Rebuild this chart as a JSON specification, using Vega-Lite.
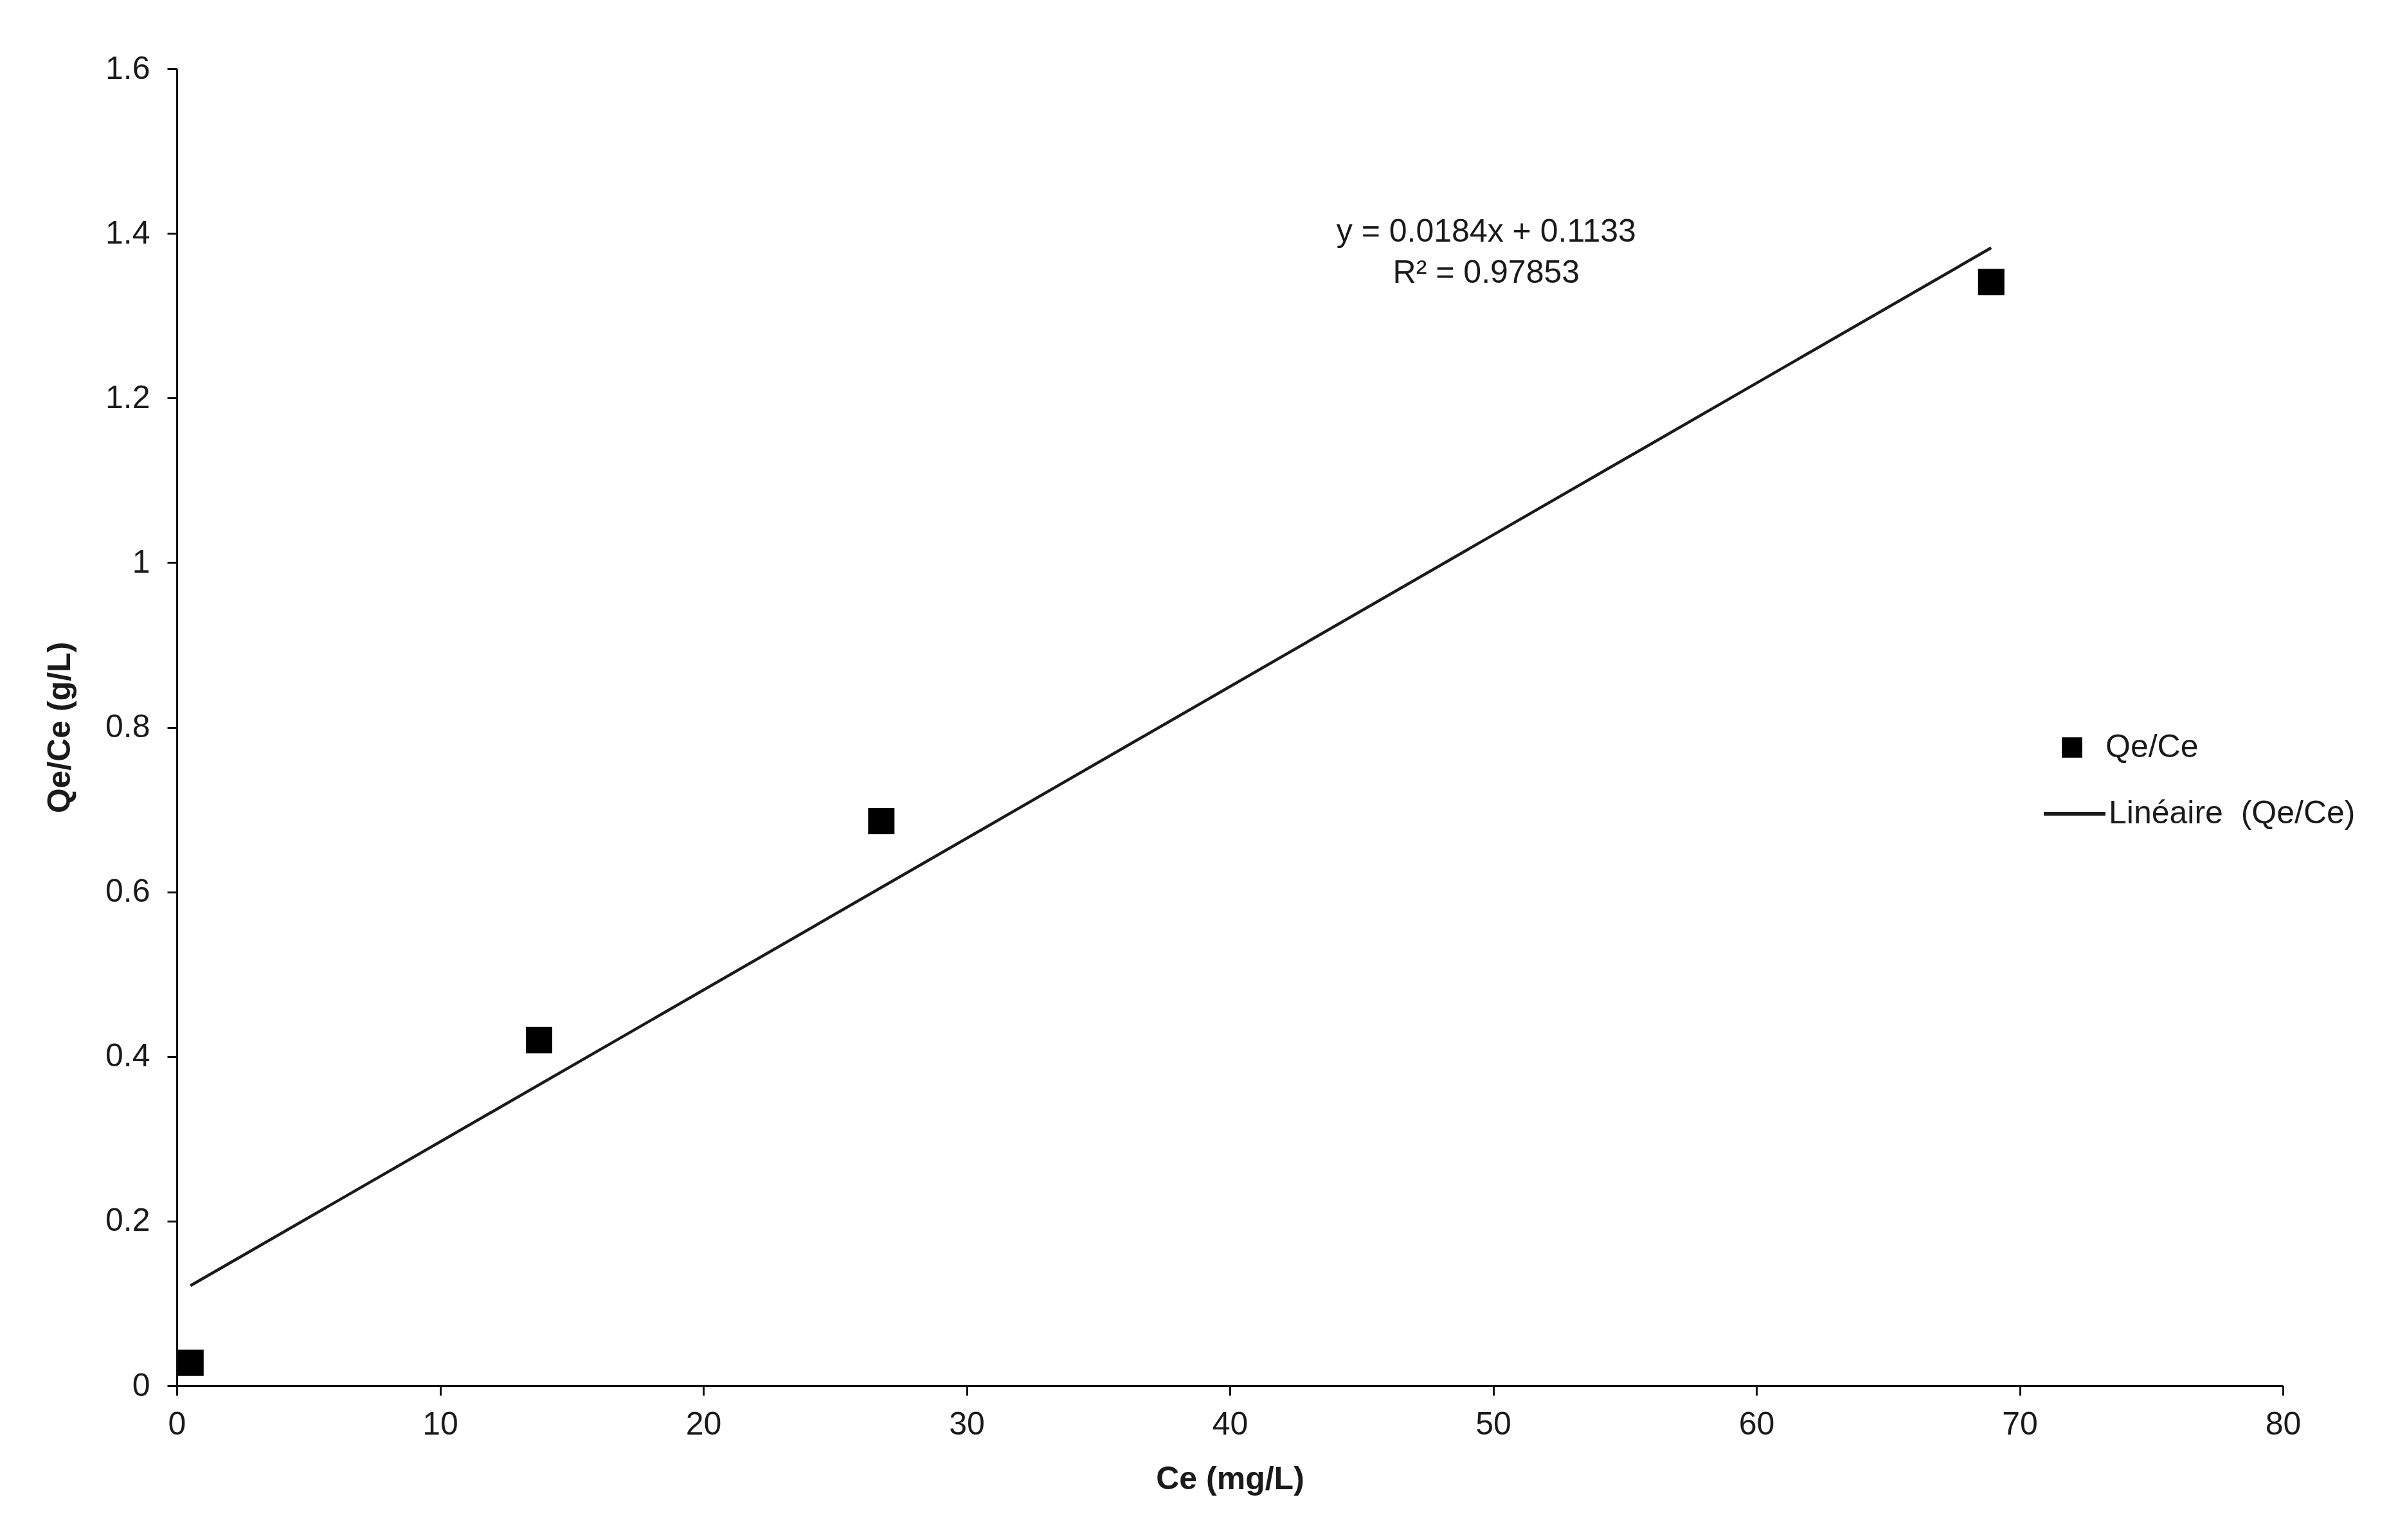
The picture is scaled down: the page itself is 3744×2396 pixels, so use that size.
{
  "$schema": "https://vega.github.io/schema/vega-lite/v6.json",
  "width": 3276,
  "height": 2049,
  "autosize": "none",
  "padding": {"left": 275, "top": 107, "right": 193, "bottom": 240},
  "background": "white",
  "config": {
    "font": "Liberation Sans",
    "view": {"stroke": null},
    "axis": {
      "grid": false,
      "domainColor": "#111111",
      "domainWidth": 3,
      "tickColor": "#111111",
      "tickWidth": 3,
      "tickSize": 15,
      "labelFlush": false,
      "labelFont": "Liberation Sans",
      "labelFontSize": 50,
      "labelColor": "#1a1a1a",
      "titleFont": "Liberation Sans",
      "titleFontSize": 50,
      "titleFontWeight": "bold",
      "titleColor": "#1a1a1a"
    },
    "legend": {
      "labelFont": "Liberation Sans",
      "labelFontSize": 50,
      "labelColor": "#1a1a1a",
      "labelLimit": 800
    }
  },
  "datasets": {
    "pts": [
      {"Ce": 0.52, "QeCe": 0.028, "series": "Qe/Ce"},
      {"Ce": 13.76, "QeCe": 0.42, "series": "Qe/Ce"},
      {"Ce": 26.76, "QeCe": 0.686, "series": "Qe/Ce"},
      {"Ce": 68.92, "QeCe": 1.341, "series": "Qe/Ce"}
    ],
    "notes": [
      {"Ce": 49.74, "QeCe": 1.4017, "label": "y = 0.0184x + 0.1133"},
      {"Ce": 49.74, "QeCe": 1.3517, "label": "R² = 0.97853"}
    ]
  },
  "layer": [
    {
      "data": {"name": "pts"},
      "transform": [{"regression": "QeCe", "on": "Ce"}],
      "mark": {"type": "line", "strokeWidth": 4.5},
      "encoding": {
        "x": {"field": "Ce", "type": "quantitative"},
        "y": {"field": "QeCe", "type": "quantitative"},
        "stroke": {
          "datum": "Linéaire\u00a0 (Qe/Ce)",
          "scale": {"range": ["#1a1a1a"]},
          "legend": {
            "title": null,
            "orient": "none",
            "legendX": 2901,
            "legendY": 1108,
            "symbolType": "stroke",
            "symbolSize": 9216,
            "symbolStrokeWidth": 6,
            "labelOffset": 2
          }
        }
      }
    },
    {
      "data": {"name": "pts"},
      "mark": {"type": "point", "filled": true, "color": "black", "opacity": 1, "size": 1681, "shape": "square"},
      "encoding": {
        "x": {
          "field": "Ce", "type": "quantitative",
          "scale": {"domain": [0, 80], "nice": false, "zero": true},
          "axis": {"values": [0, 10, 20, 30, 40, 50, 60, 70, 80], "title": "Ce (mg/L)", "labelPadding": 20, "titlePadding": 35, "format": "~g"}
        },
        "y": {
          "field": "QeCe", "type": "quantitative",
          "scale": {"domain": [0, 1.6], "nice": false},
          "axis": {"values": [0, 0.2, 0.4, 0.6, 0.8, 1, 1.2, 1.4, 1.6], "title": "Qe/Ce (g/L)", "labelPadding": 27, "titlePadding": 45, "format": "~g"}
        },
        "shape": {
          "field": "series", "type": "nominal",
          "scale": {"domain": ["Qe/Ce"], "range": ["square"]},
          "legend": {
            "title": null,
            "orient": "none",
            "legendX": 2923,
            "legendY": 1031,
            "symbolSize": 1000,
            "symbolFillColor": "black",
            "labelOffset": 27
          }
        }
      }
    },
    {
      "data": {"name": "notes"},
      "mark": {"type": "text", "font": "Liberation Sans", "fontSize": 50, "color": "#1a1a1a", "align": "center", "baseline": "middle"},
      "encoding": {
        "x": {"field": "Ce", "type": "quantitative"},
        "y": {"field": "QeCe", "type": "quantitative"},
        "text": {"field": "label"}
      }
    }
  ]
}
